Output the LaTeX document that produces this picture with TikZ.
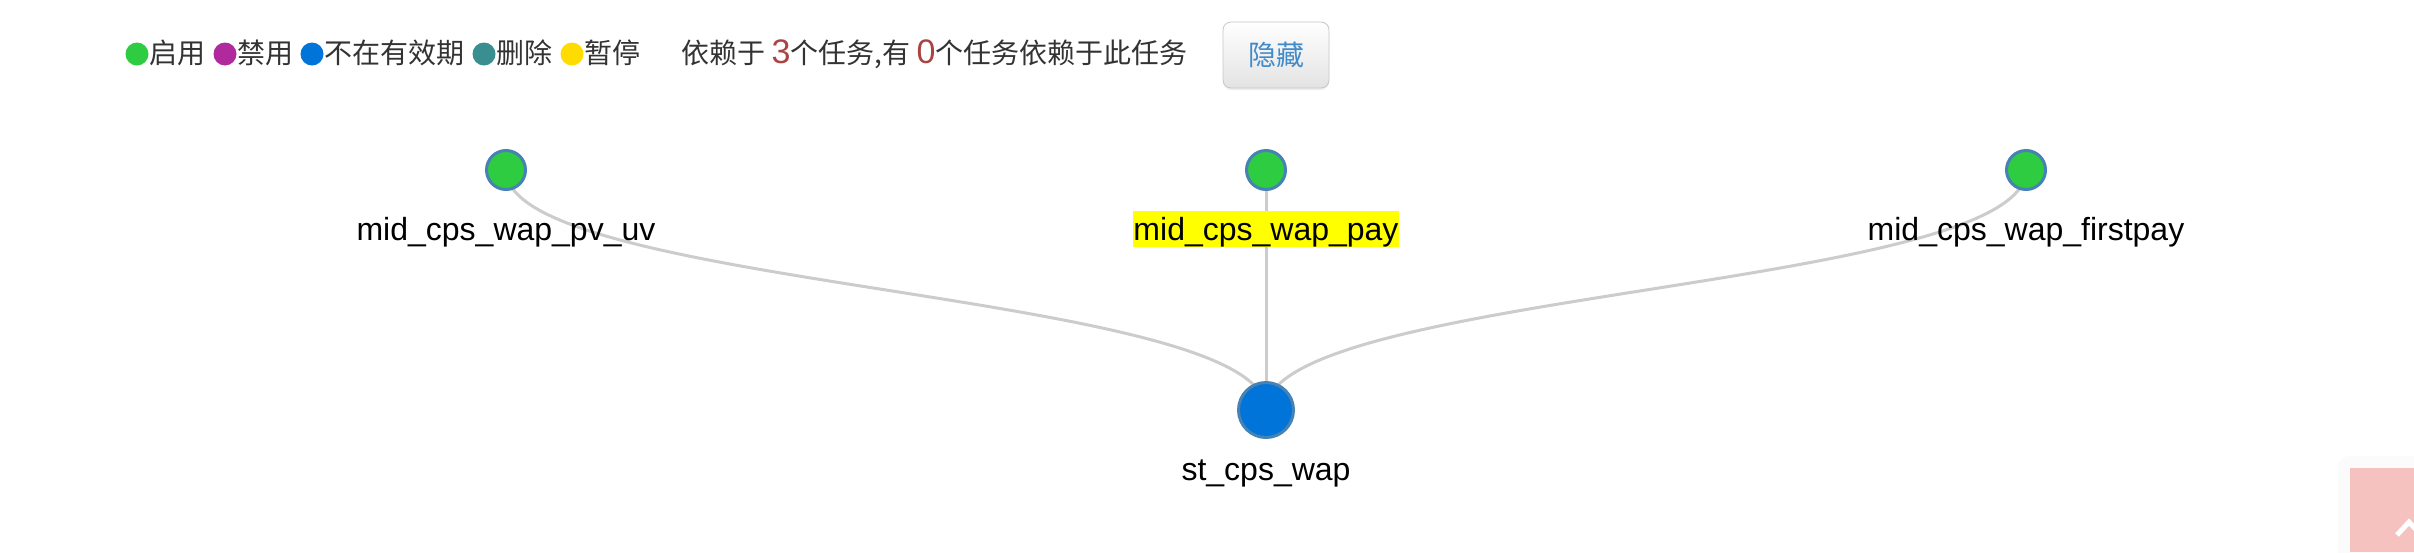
\documentclass[tikz,border=0pt]{standalone}
\usepackage{fontspec}
\setmainfont{Liberation Sans}
\newfontfamily\cjk{Noto Sans CJK SC}
\usetikzlibrary{positioning,calc,backgrounds,shadows}

\definecolor{stOn}{HTML}{2ECC40}
\definecolor{stOff}{HTML}{B02A9E}
\definecolor{stExp}{HTML}{0074D9}
\definecolor{stDel}{HTML}{398F8F}
\definecolor{stPause}{HTML}{FFDC00}
\definecolor{rim}{HTML}{4682B4}
\definecolor{edgegray}{HTML}{CCCCCC}
\definecolor{numred}{HTML}{A94442}
\definecolor{btnblue}{HTML}{428BCA}
\definecolor{txtgray}{HTML}{333333}
\definecolor{tabpink}{HTML}{F5C2BF}
\definecolor{hilite}{HTML}{FFFF00}

\newcommand{\depnum}[1]{{\rmfamily\fontsize{17pt}{18pt}\selectfont\color{numred}#1}}

\tikzset{
  task/.style={circle, draw=rim, line width=1.5pt, fill=stOn, minimum size=19.5pt, inner sep=0pt},
  ldot/.style={circle, minimum size=11.5pt, inner sep=0pt},
  ltext/.style={font=\cjk\fontsize{14pt}{17pt}\selectfont, text=txtgray, inner sep=0pt},
  lbl/.style={font=\fontsize{16pt}{19pt}\selectfont, inner sep=0pt, text height=14.5pt, text depth=3.4pt},
  edge/.style={draw=edgegray, line width=1.5pt},
  button/.style={draw=black!22, rounded corners=4pt, top color=white, bottom color=black!11,
    minimum width=53pt, minimum height=33pt, inner sep=0pt,
    font=\cjk\fontsize{14pt}{17pt}\selectfont, text=btnblue,
    drop shadow={opacity=0.12, shadow xshift=0pt, shadow yshift=-1pt}},
}

\begin{document}
\begin{tikzpicture}[x=0.5pt,y=-0.5pt]
  \useasboundingbox (0,0) rectangle (2414,552);

  % legend
  \foreach \cx/\col/\txt [count=\i] in {137/stOn/启用, 225/stOff/禁用, 312/stExp/不在有效期, 484/stDel/删除, 572/stPause/暂停}{
    \node[ldot, fill=\col] (dot\i) at (\cx,54) {};
    \node[ltext, anchor=base west] (leg\i) at (\cx+12,63) {\txt};
  }
  \node[ltext, anchor=base west] (deps) at (681,63) {依赖于 \depnum{3}个任务,有 \depnum{0}个任务依赖于此任务};
  \node[button] (hide) at (1276,55) {隐藏};

  % tasks
  \node[task] (pv) at (506,170) {};
  \node[task] (pay) at (1266,170) {};
  \node[task] (fp) at (2026,170) {};
  \node[task, fill=stExp, minimum size=27.5pt] (st) at (1266,410) {};

  \node[lbl, anchor=base] (pvl) at (506,240) {mid\_cps\_wap\_pv\_uv};
  \node[lbl, anchor=base, fill=hilite] (payl) at (1266,240) {mid\_cps\_wap\_pay};
  \node[lbl, anchor=base] (fpl) at (2026,240) {mid\_cps\_wap\_firstpay};
  \node[lbl, anchor=base] (stl) at (1266,480) {st\_cps\_wap};

  % links, centre to centre, behind everything
  \coordinate (mid) at (1266,290);
  \begin{scope}[on background layer]
    \fill[white] (0,0) rectangle (2414,552);
    \draw[edge] (pv.center) .. controls (pv |- mid) and (st |- mid) .. (st.center);
    \draw[edge] (pay.center) -- (st.center);
    \draw[edge] (fp.center) .. controls (fp |- mid) and (st |- mid) .. (st.center);
  \end{scope}

  % corner tab
  \fill[black!1.5, rounded corners=6pt] (2338,456) rectangle (2430,570);
  \fill[tabpink] (2350,468) rectangle (2414,552);
  \draw[white, line width=2.5pt] (2397,535) -- (2409,522) -- (2421,535);
\end{tikzpicture}
\end{document}
